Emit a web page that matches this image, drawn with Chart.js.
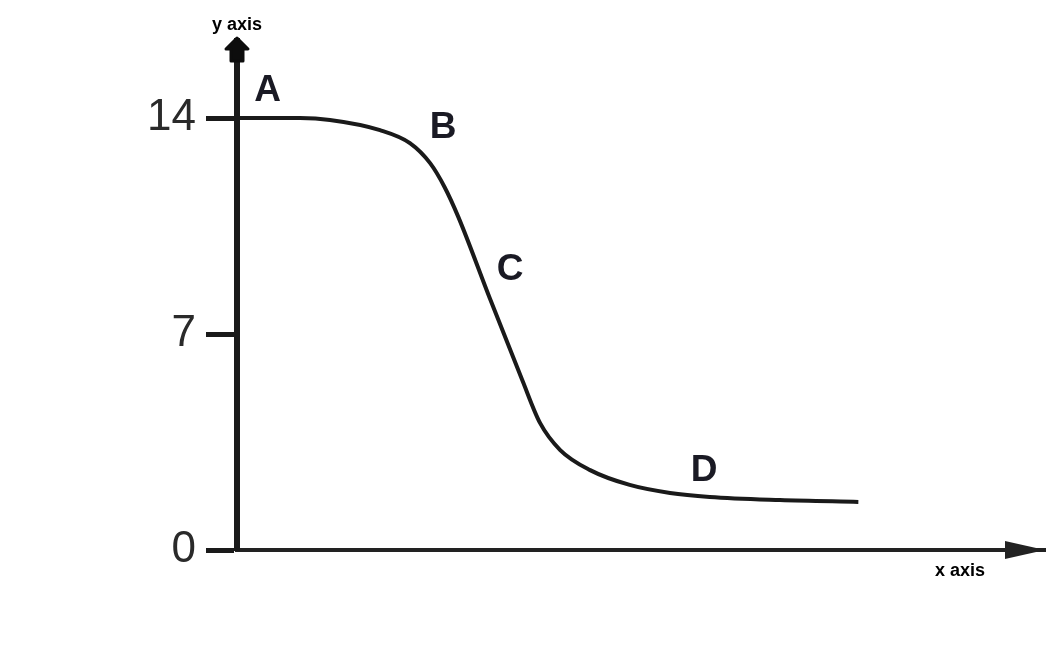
<!DOCTYPE html>
<html>
<head>
<meta charset="utf-8">
<script src="https://cdn.jsdelivr.net/npm/chart.js@4.4.1/dist/chart.umd.min.js"></script>
<style>
  html, body { margin: 0; padding: 0; background: #fff; }
  #wrap { width: 1064px; height: 654px; position: relative; }
</style>
</head>
<body>
<div id="wrap"><canvas id="chart"></canvas></div>
<script>
// curve (x in arbitrary units 0..100, y in axis units)
const curveX = [0, 7.8, 11.5, 17.7, 21.4, 23.9, 25.7, 27.4, 31.3, 35.3, 37.5, 40.0, 43.7, 48.6, 53.6, 58.5, 67.2, 76.9];
const curveY = [14, 14, 13.94, 13.61, 13.19, 12.54, 11.76, 10.79, 8.15, 5.51, 4.12, 3.24, 2.59, 2.11, 1.85, 1.72, 1.62, 1.56];
const yTicks = [0, 7, 14];

// point labels on the curve
const markNames = ["A", "B", "C", "D"];
const markX = [3.8, 25.5, 33.8, 57.8];
const markY = [14.9, 13.7, 9.07, 2.56];

const xTitle = "x axis";
const yTitle = "y axis";

// arrows at the ends of the axes + letters + axis titles
const extras = {
  id: "extras",
  afterDraw(chart) {
    const { ctx, chartArea: a, scales } = chart;
    ctx.save();
    ctx.fillStyle = "#0d0d0d";
    ctx.strokeStyle = "#0d0d0d";
    ctx.lineJoin = "round";
    ctx.lineWidth = 3;
    // y arrow (up), chunky
    ctx.beginPath();
    ctx.moveTo(a.left, a.top - 3);
    ctx.lineTo(a.left + 11, a.top + 8);
    ctx.lineTo(a.left + 6, a.top + 8);
    ctx.lineTo(a.left + 6, a.top + 20);
    ctx.lineTo(a.left - 6, a.top + 20);
    ctx.lineTo(a.left - 6, a.top + 8);
    ctx.lineTo(a.left - 11, a.top + 8);
    ctx.closePath();
    ctx.fill();
    ctx.stroke();
    // x arrow (right)
    ctx.fillStyle = "#222";
    ctx.beginPath();
    ctx.moveTo(a.right, a.bottom);
    ctx.lineTo(a.right - 40, a.bottom - 9);
    ctx.lineTo(a.right - 40, a.bottom + 9);
    ctx.closePath();
    ctx.fill();

    // letters
    ctx.fillStyle = "#1a1a24";
    ctx.font = "bold 37px 'Liberation Sans', Arial, sans-serif";
    ctx.textAlign = "center";
    ctx.textBaseline = "middle";
    markNames.forEach((m, i) => {
      ctx.fillText(m, scales.x.getPixelForValue(markX[i]), scales.y.getPixelForValue(markY[i]));
    });

    // axis titles
    ctx.fillStyle = "#000";
    ctx.font = "bold 18px 'Liberation Sans', Arial, sans-serif";
    ctx.fillText(yTitle, a.left, 25);
    ctx.fillText(xTitle, 960, 571);
    ctx.restore();
  }
};

new Chart(document.getElementById("chart"), {
  type: "line",
  data: {
    datasets: [{
      data: curveX.map((x, i) => ({ x: x, y: curveY[i] })),
      borderColor: "#1a1a1a",
      borderWidth: 4,
      pointRadius: 0,
      cubicInterpolationMode: "monotone",
      fill: false
    }]
  },
  options: {
    responsive: true,
    maintainAspectRatio: false,
    animation: false,
    layout: { padding: { top: 41, right: 19, left: 0, bottom: 0 } },
    plugins: { legend: { display: false }, tooltip: { enabled: false } },
    scales: {
      x: {
        type: "linear",
        min: 0,
        max: 100,
        grid: { display: false },
        border: { display: true, color: "#222", width: 4 },
        ticks: { display: false },
        afterFit(scale) { scale.height = 104; }
      },
      y: {
        type: "linear",
        min: 0,
        max: 16.5,
        afterBuildTicks(scale) { scale.ticks = yTicks.map(v => ({ value: v })); },
        afterFit(scale) { scale.width = 237; },
        grid: {
          drawOnChartArea: false,
          drawTicks: true,
          tickLength: 31,
          tickWidth: 5,
          tickColor: "#1a1a1a"
        },
        border: { display: true, color: "#1a1a1a", width: 6 },
        ticks: {
          color: "#2a2a2a",
          padding: 10,
          font: { family: "'Liberation Sans', Arial, sans-serif", size: 44 }
        }
      }
    }
  },
  plugins: [extras]
});
</script>
</body>
</html>
